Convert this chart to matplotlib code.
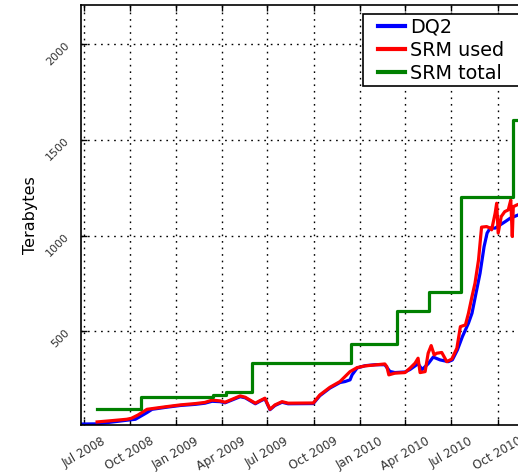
import matplotlib
matplotlib.use("Agg")
import matplotlib.pyplot as plt
from matplotlib.legend_handler import HandlerLine2D
import datetime as dt

# ---- data ----
dq2_dates = ["2008-06-28", "2008-07-28", "2008-09-25", "2008-10-12", "2008-11-04", "2008-11-14",
             "2008-12-13", "2009-01-09", "2009-02-08", "2009-02-27", "2009-03-13", "2009-03-29",
             "2009-04-08", "2009-05-08", "2009-05-18", "2009-06-07", "2009-06-16", "2009-06-26",
             "2009-07-06", "2009-07-16", "2009-07-30", "2009-08-11", "2009-09-30", "2009-10-13",
             "2009-11-02", "2009-11-22", "2009-12-02", "2009-12-12", "2009-12-16", "2009-12-26",
             "2010-01-11", "2010-01-31", "2010-02-19", "2010-03-01", "2010-03-11", "2010-03-31",
             "2010-04-10", "2010-04-26", "2010-05-04", "2010-05-16", "2010-05-26", "2010-06-09",
             "2010-06-25", "2010-07-03", "2010-07-13", "2010-07-23", "2010-08-04", "2010-08-11",
             "2010-08-19", "2010-08-27", "2010-09-04", "2010-09-10", "2010-09-16", "2010-09-26",
             "2010-10-06", "2010-10-16", "2010-10-26", "2010-11-11", "2010-11-22"]
dq2_values = [15, 16, 35, 40, 75, 92,
              103, 112, 118, 124, 134, 132,
              126, 158, 152, 121, 134, 147,
              90, 112, 129, 121, 122, 163,
              203, 232, 237, 246, 272, 308,
              320, 325, 325, 290, 284, 287,
              300, 330, 300, 330, 365, 350,
              341, 350, 402, 472, 542, 594,
              699, 803, 942, 1013, 1039, 1039,
              1056, 1073, 1091, 1108, 1120]

srm_used_dates = ["2008-07-28", "2008-08-23", "2008-09-25", "2008-10-04", "2008-10-17", "2008-11-04",
                  "2008-12-13", "2009-01-09", "2009-02-08", "2009-02-27", "2009-03-13", "2009-03-29",
                  "2009-04-08", "2009-05-08", "2009-05-18", "2009-06-07", "2009-06-16", "2009-06-26",
                  "2009-07-06", "2009-07-16", "2009-07-30", "2009-08-11", "2009-09-30", "2009-10-13",
                  "2009-11-02", "2009-11-22", "2009-12-02", "2009-12-12", "2009-12-26", "2010-01-11",
                  "2010-01-31", "2010-02-19", "2010-02-23", "2010-02-27", "2010-03-11", "2010-03-31",
                  "2010-04-10", "2010-04-20", "2010-04-26", "2010-04-30", "2010-05-10", "2010-05-16",
                  "2010-05-22", "2010-05-28", "2010-06-02", "2010-06-12", "2010-06-22", "2010-07-02",
                  "2010-07-12", "2010-07-19", "2010-07-29", "2010-08-04", "2010-08-11", "2010-08-17",
                  "2010-08-24", "2010-08-30", "2010-09-09", "2010-09-16", "2010-09-19", "2010-09-26",
                  "2010-09-29", "2010-10-02", "2010-10-08", "2010-10-15", "2010-10-22", "2010-10-27",
                  "2010-10-30", "2010-11-01", "2010-11-08", "2010-11-18"]
srm_used_values = [26, 32, 40, 45, 62, 92,
                   106, 115, 122, 128, 140, 136,
                   129, 162, 155, 124, 137, 150,
                   92, 115, 132, 124, 125, 167,
                   207, 237, 263, 289, 310, 319,
                   324, 329, 315, 272, 281, 284,
                   307, 333, 359, 284, 289, 385,
                   425, 376, 385, 389, 341, 355,
                   411, 524, 533, 594, 681, 751,
                   873, 1044, 1047, 1039, 1030, 1117,
                   1169, 1013, 1099, 1125, 1134, 1186,
                   995, 1151, 1160, 1170]

srm_total_dates = ["2008-07-27", "2008-10-23", "2009-03-15", "2009-04-09", "2009-06-01",
                   "2009-12-13", "2010-03-16", "2010-05-18", "2010-07-20", "2010-11-01", "2010-11-25"]
srm_total_values = [92, 155, 165, 185, 335, 432, 606, 704, 1204, 1605, 1605]

y_ticks = [500, 1000, 1500, 2000]
x_tick_dates = ["2008-07-01", "2008-10-01", "2009-01-01", "2009-04-01", "2009-07-01",
                "2009-10-01", "2010-01-01", "2010-04-01", "2010-07-01", "2010-10-01"]


def to_dt(lst):
    return [dt.datetime.strptime(s, "%Y-%m-%d") for s in lst]


W, H = 518, 472
fig = plt.figure(figsize=(W / 100, H / 100), dpi=100)
left_px, right_px, top_px, bottom_px = 81, 540, 5, 425
ax = fig.add_axes([left_px / W, 1 - bottom_px / H, (right_px - left_px) / W, (bottom_px - top_px) / H])

ax.plot(to_dt(dq2_dates), dq2_values, color="#0000ff", lw=2.3, label="DQ2")
ax.plot(to_dt(srm_used_dates), srm_used_values, color="#ff0000", lw=2.3, label="SRM used")
ax.plot(to_dt(srm_total_dates), srm_total_values, color="#008000", lw=2.3,
        drawstyle="steps-post", label="SRM total")

ax.set_xlim(dt.datetime(2008, 6, 26), dt.datetime(2010, 12, 24))
ax.set_ylim(10, 2205)
ax.set_yticks(y_ticks)
ax.set_yticklabels([str(v) for v in y_ticks], rotation=45, fontsize=8, color="#333333")
xt = to_dt(x_tick_dates)
ax.set_xticks(xt)
ax.set_xticklabels([d.strftime("%b %Y") for d in xt], rotation=30, ha="center",
                   fontsize=8.5, color="#333333")
ax.tick_params(axis="both", direction="in", length=4, width=1, top=True, right=True)
ax.tick_params(axis="y", pad=7)
ax.tick_params(axis="x", pad=7)

ax.grid(True, color="black", linestyle=(0, (1.2, 3.5)), linewidth=1.0)
for s in ax.spines.values():
    s.set_linewidth(1.2)

ax.set_ylabel("Terabytes", fontsize=11.5)
ax.yaxis.set_label_coords(-0.094, 0.5)

fs = 13.8
leg = ax.legend(loc="upper left", bbox_to_anchor=(363 / W, 1 - 14 / H, (545 - 363) / W, 0.0),
                bbox_transform=fig.transFigure, mode="expand", borderaxespad=0,
                fontsize=fs, labelspacing=0.2, borderpad=0.2, handlelength=1.97,
                handletextpad=0.3, fancybox=False, framealpha=1,
                handler_map={plt.Line2D: HandlerLine2D(xpad=0.57)})
leg.get_frame().set_edgecolor("black")
leg.get_frame().set_linewidth(1.2)
for line in leg.get_lines():
    line.set_linewidth(3)

fig.savefig("out.png", dpi=100)
